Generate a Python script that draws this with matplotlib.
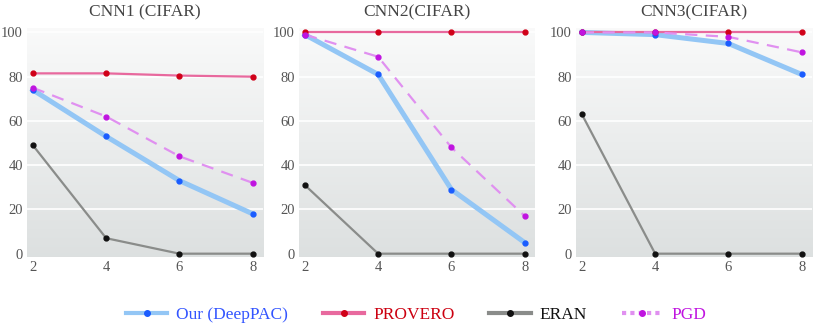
import numpy as np
import matplotlib
matplotlib.use("Agg")
import matplotlib.pyplot as plt
from matplotlib.lines import Line2D

plt.rcParams['font.family'] = ['Liberation Serif', 'DejaVu Serif']

x = [2, 4, 6, 8]
titles = ["CNN1 (CIFAR)", "CNN2(CIFAR)", "CNN3(CIFAR)"]
deeppac = [[74, 53, 33, 18], [99, 81, 29, 5], [100, 99, 95, 81]]
provero = [[81.5, 81.5, 80.5, 80], [100, 100, 100, 100], [100, 100, 100, 100]]
eran = [[49, 7, 0, 0], [31, 0, 0, 0], [63, 0, 0, 0]]
pgd = [[75, 62, 44, 32], [99, 89, 48, 17], [100, 100, 98, 91]]
yticks = [0, 20, 40, 60, 80, 100]
labels = ["Our (DeepPAC)", "PROVERO", "ERAN", "PGD"]

fig = plt.figure(figsize=(8.13, 3.25), dpi=100)
lefts = [27/813, 299/813, 576/813]
width = 236/813
bottom = 1 - 257/325
height = (257-28)/325

grad = np.linspace(0, 1, 256).reshape(-1, 1)
top_c = np.array([0.978, 0.980, 0.980])
bot_c = np.array([0.865, 0.878, 0.878])
img = top_c[None, None, :] * (1 - grad[:, :, None]) + bot_c[None, None, :] * grad[:, :, None]

for i in range(3):
    ax = fig.add_axes([lefts[i], bottom, width, height])
    ax.imshow(img, extent=[0, 1, 0, 1], transform=ax.transAxes, aspect='auto', zorder=0)
    for s in ax.spines.values():
        s.set_visible(False)
    ax.set_xlim(1.84, 8.28)
    ax.set_ylim(-1.5, 102)
    for yt in yticks[1:]:
        ax.axhline(yt, color='white', lw=1.2, zorder=1)
    ax.plot(x, deeppac[i], color='#93c6f5', lw=3.6, zorder=3)
    ax.plot(x, deeppac[i], 'o', color='#1a5cff', ms=3.5, zorder=6)
    ax.plot(x, provero[i], color='#e8699e', lw=1.6, zorder=4)
    ax.plot(x, provero[i], 'o', color='#d00018', ms=3.5, zorder=6)
    ax.plot(x, eran[i], color='#8a8c8a', lw=1.6, zorder=4)
    ax.plot(x, eran[i], 'o', color='#111111', ms=3.5, zorder=6)
    ax.plot(x, pgd[i], color='#e090f0', lw=1.6, ls=(0, (5.5, 3.8)), zorder=4)
    ax.plot(x, pgd[i], 'o', color='#c014e0', ms=3.5, zorder=6)
    ax.set_xticks(x)
    ax.set_yticks(yticks)
    ax.tick_params(length=0, labelsize=10.5, colors='#555555', pad=3)
    ax.set_title(titles[i], fontsize=12.5, color='#444444', pad=8)

handles = [
    Line2D([], [], color='#93c6f5', lw=3, marker='o', mfc='#1a5cff', mec='#1a5cff', ms=4),
    Line2D([], [], color='#e8699e', lw=3, marker='o', mfc='#d00018', mec='#d00018', ms=4),
    Line2D([], [], color='#8a8c8a', lw=3, marker='o', mfc='#111111', mec='#111111', ms=4),
    Line2D([], [], color='#e090f0', lw=3, ls=(0, (1, 1)), marker='o', mfc='#c014e0', mec='#c014e0', ms=4),
]
leg = fig.legend(handles, labels, loc='center', bbox_to_anchor=(0.512, 0.03), ncol=4,
                 frameon=False, fontsize=12.5, handlelength=2.4, columnspacing=2.0, handletextpad=0.5)
for t, c in zip(leg.get_texts(), ['#3355ff', '#cc0010', '#111111', '#c014e0']):
    t.set_color(c)

fig.savefig("out.png", dpi=100)
